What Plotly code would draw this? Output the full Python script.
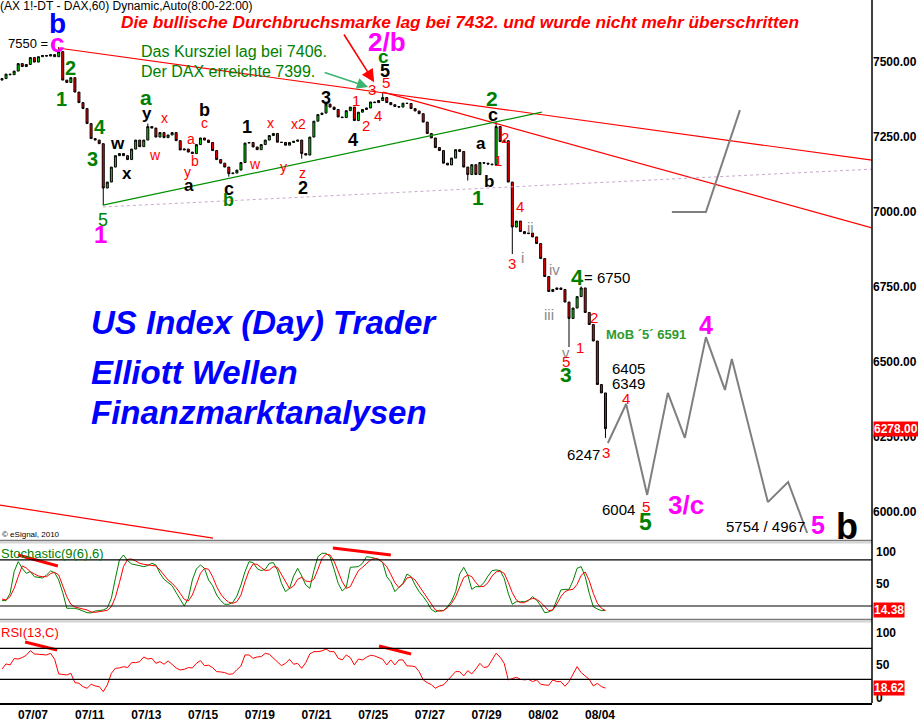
import plotly.graph_objects as go

# ---------------- data (2-hour bars, session 08:00-22:00, 7 bars/day) ----------------
dates = ["07/07", "07/11", "07/13", "07/15", "07/19", "07/21", "07/25", "07/27", "07/29", "08/02", "08/04"]
bars_per_day = 7
first_label_bar = 7.65

closes = [7445, 7460, 7458, 7470, 7495, 7485, 7492, 7515, 7500, 7518,
          7522, 7520, 7525, 7518, 7535, 7440, 7432, 7448, 7400, 7365,
          7345, 7295, 7245, 7240, 7228, 7080, 7100, 7150, 7188, 7195,
          7188, 7175, 7210, 7240, 7218, 7240, 7285, 7280, 7250, 7265,
          7248, 7257, 7265, 7238, 7207, 7210, 7200, 7195, 7225, 7247,
          7240, 7232, 7205, 7175, 7163, 7150, 7128, 7130, 7140, 7165,
          7230, 7232, 7217, 7208, 7225, 7240, 7255, 7262, 7233, 7232,
          7223, 7232, 7236, 7240, 7195, 7190, 7250, 7303, 7325, 7330,
          7360, 7350, 7342, 7317, 7315, 7338, 7350, 7305, 7333, 7342,
          7347, 7367, 7365, 7372, 7382, 7365, 7358, 7352, 7350, 7363,
          7362, 7345, 7337, 7328, 7300, 7262, 7247, 7215, 7205, 7163,
          7157, 7180, 7208, 7202, 7150, 7125, 7158, 7125, 7165, 7163,
          7160, 7158, 7285, 7235, 7238, 7100, 6950, 6970, 6935, 6928,
          6930, 6917, 6895, 6845, 6785, 6735, 6742, 6747, 6742, 6700,
          6645, 6680, 6718, 6747, 6665, 6625, 6570, 6425, 6397, 6278]
first_open = 7440
wick_high = {14: 7550, 36: 7295, 80: 7368, 94: 7399, 122: 7300, 143: 6752}
wick_low = {25: 7023, 56: 7118, 74: 7178, 115: 7105, 126: 6860, 140: 6550, 149: 6247}

stoch_k = [27, 27, 36.5, 64.8, 77.8, 69.1, 62.6, 64.8, 58.2, 57.8,
           56.5, 60.4, 65.6, 63.4, 53.9, 37.4, 17, 17, 17, 15.6,
           13, 11.3, 10.9, 13.5, 13.9, 14.8, 17.4, 30, 56, 80,
           86.5, 79.1, 74.8, 73.5, 72.1, 71.3, 72.6, 75.6, 73.5, 62.6,
           54.8, 50.8, 46.5, 37.4, 27.8, 20, 30, 53.9, 68.2, 73.5,
           69.1, 53.9, 46.5, 34.3, 27, 22.2, 22.2, 24.8, 33, 47.3,
           64.8, 77.8, 76.5, 68.7, 66.1, 67.8, 75.6, 76.5, 66.9, 49.6,
           38.7, 43, 59.1, 69.1, 59.1, 47.3, 43, 66.1, 84.3, 88.7,
           88.7, 84.3, 67.8, 49.6, 39.6, 44.3, 70.4, 70.4, 71.3, 75.6,
           84.3, 83.5, 82.2, 80.8, 76.5, 58.2, 51.7, 38.7, 44.3, 49.6,
           61.7, 58.2, 47.3, 38.7, 32.2, 24.8, 15.6, 12.2, 14.4, 13.9,
           19.1, 26.5, 38.7, 61.7, 70.4, 60.4, 41.7, 45.2, 45.2, 50.4,
           59.1, 66.1, 67, 66.1, 56, 36.5, 22.2, 25.6, 25.6, 25.6,
           27, 32.2, 27.8, 20.4, 11.3, 12.2, 14.8, 28.7, 40.9, 41.7,
           41.7, 53, 69.1, 71.3, 58.2, 36.5, 19.1, 16.1, 13.9, 14.38]

stoch_d = [29.1, 27.8, 32.2, 43, 58.2, 72.2, 69.5, 64.8, 61.7, 59.1,
           58.2, 58.2, 62.2, 63.9, 60.4, 47.4, 32.2, 22.2, 18.7, 17.4,
           16.1, 14.8, 12.2, 11.7, 12.6, 13.5, 14.3, 19.1, 31.3, 50.4,
           71.3, 80.8, 81.3, 78.6, 75.6, 74.3, 73.5, 73.5, 72.2, 66.9,
           60.9, 53.9, 49.6, 43.9, 36.5, 28.7, 26.5, 34.3, 48.2, 62.6,
           69.1, 67.8, 58.2, 45.2, 35.6, 29.1, 24.8, 23.5, 25.6, 34.3,
           51.7, 66.1, 74.8, 74.3, 70, 66.1, 66.9, 71.3, 70.4, 61.7,
           51.7, 42.6, 46.1, 54.8, 57.4, 52.6, 51.7, 54.8, 67.8, 81.7,
           87.4, 86.5, 78.2, 66.1, 51.7, 43, 45.2, 56.1, 66.1, 70.4,
           75.6, 80, 82.2, 80.8, 76.9, 71.3, 61.3, 50.4, 43.9, 48.7,
           56.5, 57.8, 53.9, 46.1, 38.7, 31.3, 22.6, 14.8, 13.1, 13.9,
           17.8, 23.5, 32.2, 43.9, 57, 60.4, 58.2, 50.4, 45.2, 45.6,
           50.4, 59.1, 64.3, 65.6, 62.6, 50.9, 37.4, 27.8, 24.3, 24.3,
           27.8, 30, 28.7, 24.8, 19.1, 13.9, 14.8, 22.6, 32.2, 38.7,
           40.9, 41.7, 48.2, 60, 64.3, 53, 36.5, 23.5, 17, 14]

rsi = [43.3, 49.8, 48.5, 56.7, 56.2, 58, 61, 67, 62.7, 62.3,
       61.8, 61.4, 63.5, 55.8, 36.9, 36, 35.6, 37.7, 25.7, 24.8,
       20.5, 18.4, 23.6, 21.4, 20.5, 14.1, 22.7, 37.7, 44.2, 44.6,
       46.3, 45.1, 51.5, 51.5, 52.8, 58.8, 56.2, 57.1, 50.6, 52.8,
       49.4, 53.7, 48.5, 44.6, 42, 42.9, 45.1, 44.6, 50.6, 54.1,
       47.6, 48.1, 45.1, 39.9, 39.5, 38.6, 36.5, 36.9, 42.5, 47.2,
       61.4, 61.4, 57.1, 58.8, 59.2, 63.5, 62.3, 57.1, 53.2, 47.6,
       50.6, 55.8, 49.4, 50.6, 44.2, 51.5, 62.7, 65.7, 65.7, 66.6,
       69.1, 65.7, 65.7, 57.1, 55, 61.4, 58, 48.5, 56.2, 54.9,
       58.4, 61, 60.1, 58.4, 55.8, 48.5, 55, 48.5, 55, 55,
       47.2, 47.2, 46.3, 39.9, 29.2, 25.7, 23.1, 18.4, 21.4, 22.7,
       28.3, 33.4, 39.9, 39.9, 34.3, 41.1, 36.9, 43.3, 50.6, 45.1,
       46.3, 55, 63.5, 58.4, 50.6, 29.2, 31.4, 32.6, 30, 29.2,
       30, 27, 29.2, 23.6, 22.7, 22.3, 29.2, 27, 27, 21,
       27, 36.9, 46.3, 38.6, 34.3, 30, 21.4, 24.8, 20.5, 18.62]

# Elliott-wave projection (bar index, price)
proj_bars = [149.6, 154.1, 159.3, 164.4, 168.6, 173.8, 178.5, 180.2, 189.1, 194.1, 198.8]
proj_prices = [6230, 6360, 6057, 6397, 6247, 6583, 6407, 6510, 6033, 6100, 5930]
alt_bars = [165.4, 173.8, 182.2]
alt_prices = [7000, 7000, 7340]

# trend lines (bar index, price)
red_line_1 = ([13.8, 214.8], [7547, 7173])
red_line_2 = ([94.1, 214.8], [7400, 6947])
red_line_3 = ([-0.5, 52.1], [6023, 5913])
green_line = ([24.9, 133.3], [7023, 7333])
lilac_line = ([24.9, 214.8], [7017, 7143])
stoch_div = [([3.95, 13.8], [86.5, 72.2]), ([81.7, 96], [95.6, 86.5])]
rsi_div = [([5.7, 13.6], [78.1, 67.8]), ([93.1, 101], [73, 62.6])]

price_ticks = [7500, 7250, 7000, 6750, 6500, 6250, 6000]
last_price = 6278.00

# ---------------- build ----------------
n = len(closes)
bars = list(range(n))
opens = [first_open] + closes[:-1]
highs = [max(o, c) for o, c in zip(opens, closes)]
lows = [min(o, c) for o, c in zip(opens, closes)]
for k, v in wick_high.items():
    highs[k] = v
for k, v in wick_low.items():
    lows[k] = v

FONT = "Liberation Sans, Arial, sans-serif"
GREEN = "#008000"
RED = "#ff0000"
MAG = "#ff00ff"
BLUE = "#0000ff"
GREY = "#8a8a8a"
BLACK = "#000000"

fig = go.Figure()
fig.add_trace(go.Candlestick(
    x=bars, open=opens, high=highs, low=lows, close=closes,
    increasing=dict(line=dict(color="black", width=1), fillcolor="#00dd00"),
    decreasing=dict(line=dict(color="black", width=1), fillcolor="#ff0000"),
    whiskerwidth=0, hoverinfo="skip", xaxis="x", yaxis="y"))


def line(xs, ys, color, width=1, dash=None, yaxis="y"):
    fig.add_trace(go.Scatter(x=xs, y=ys, mode="lines", hoverinfo="skip",
                             line=dict(color=color, width=width, dash=dash),
                             xaxis="x", yaxis=yaxis))


line(*red_line_1, RED, 1.2)
line(*red_line_2, RED, 1.2)
line(*red_line_3, RED, 1.2)
line(*green_line, "#009000", 1.2)
line(*lilac_line, "#c8a8cc", 1, "dot")
line(proj_bars, proj_prices, "#7f7f7f", 2)
line(alt_bars, alt_prices, "#7f7f7f", 2)

# stochastic
line(bars, stoch_k, "#008000", 1, yaxis="y2")
line(bars, stoch_d, "#ff0000", 1, yaxis="y2")
for xs, ys in stoch_div:
    line(xs, ys, RED, 3, yaxis="y2")
# rsi
line(bars, rsi, "#ff0000", 1, yaxis="y3")
for xs, ys in rsi_div:
    line(xs, ys, RED, 3, yaxis="y3")

# ---------------- annotations ----------------
ann = []


def lab(text, x, y, color, size, bold=False, italic=False, xanchor="center"):
    t = text
    if bold:
        t = "<b>" + t + "</b>"
    if italic:
        t = "<i>" + t + "</i>"
    ann.append(dict(text=t, x=x, y=y, xref="x", yref="y", showarrow=False,
                    xanchor=xanchor, yanchor="middle",
                    font=dict(family=FONT, size=size, color=color)))


wave_labels = [
    ("b", 13.8, 7630, BLUE, 28, True),
    ("7550 =", 6.4, 7563, BLACK, 13, False),
    ("c", 13.6, 7565, MAG, 26, True),
    ("2", 16.8, 7480, GREEN, 20, True),
    ("1", 14.8, 7377, GREEN, 20, True),
    ("4", 24.2, 7283, GREEN, 20, True),
    ("3", 22.4, 7177, GREEN, 20, True),
    ("5", 24.9, 6975, GREEN, 18, False),
    ("1", 24.4, 6925, MAG, 24, True),
    ("a", 35.6, 7382, GREEN, 21, True),
    ("y", 35.8, 7330, BLACK, 17, True),
    ("x", 40.2, 7313, RED, 14, False),
    ("b", 49.9, 7340, BLACK, 18, True),
    ("c", 49.9, 7297, RED, 14, False),
    ("w", 28.4, 7230, BLACK, 17, True),
    ("w", 37.8, 7190, RED, 14, False),
    ("x", 30.9, 7130, BLACK, 17, True),
    ("a", 46.7, 7243, RED, 14, False),
    ("b", 47.7, 7170, RED, 14, False),
    ("y", 45.9, 7133, RED, 14, False),
    ("a", 46.2, 7090, BLACK, 17, True),
    ("1", 60.5, 7283, BLACK, 18, True),
    ("x", 66.4, 7297, RED, 14, False),
    ("x2", 73.1, 7293, RED, 14, False),
    ("w", 62.5, 7160, RED, 14, False),
    ("y", 69.6, 7150, RED, 14, False),
    ("z", 74.1, 7130, RED, 14, False),
    ("2", 74.3, 7080, BLACK, 18, True),
    ("c", 56, 7077, BLACK, 18, True),
    ("b", 56, 7040, GREEN, 18, True),
    ("3", 80, 7380, BLACK, 18, True),
    ("4", 86.7, 7240, BLACK, 18, True),
    ("1", 87.4, 7373, RED, 15, False),
    ("2", 89.9, 7290, RED, 15, False),
    ("3", 91.4, 7410, RED, 15, False),
    ("4", 92.8, 7323, RED, 15, False),
    ("5", 94.8, 7432, RED, 15, False),
    ("5", 94.6, 7470, BLACK, 18, True),
    ("c", 94.3, 7517, GREEN, 19, True),
    ("2/b", 95.1, 7567, MAG, 26, True),
    ("2", 121, 7380, GREEN, 21, True),
    ("c", 121.2, 7323, BLACK, 18, True),
    ("2", 124.2, 7247, RED, 15, False),
    ("a", 118.3, 7227, BLACK, 17, True),
    ("1", 122.5, 7173, RED, 15, False),
    ("b", 120.2, 7103, BLACK, 17, True),
    ("1", 117.5, 7047, GREEN, 21, True),
    ("4", 127.9, 7017, RED, 15, False),
    ("3", 125.9, 6830, RED, 15, False),
    ("i", 128.6, 6847, GREY, 15, False),
    ("ii", 130.6, 6950, GREY, 15, False),
    ("iv", 136.3, 6807, GREY, 15, False),
    ("iii", 135.1, 6657, GREY, 15, False),
    ("v", 139.3, 6532, GREY, 15, False),
    ("5", 139.3, 6502, RED, 15, False),
    ("3", 139.3, 6460, GREEN, 21, True),
    ("4", 142.2, 6782, GREEN, 22, True),
    ("2", 146.2, 6650, RED, 15, False),
    ("1", 142.7, 6550, RED, 15, False),
    ("6405", 154.8, 6480, BLACK, 15, False),
    ("6349", 154.8, 6427, BLACK, 15, False),
    ("4", 154.1, 6380, RED, 15, False),
    ("6247", 143.5, 6193, BLACK, 15, False),
    ("3", 149.2, 6200, RED, 15, False),
    ("6004", 152.3, 6007, BLACK, 15, False),
    ("5", 159, 6020, RED, 15, False),
    ("5", 159, 5967, GREEN, 23, True),
    ("3/c", 168.9, 6023, MAG, 26, True),
    ("4", 173.8, 6622, MAG, 25, True),
    ("5754 / 4967", 188.4, 5950, BLACK, 15, False),
    ("5", 201.5, 5957, MAG, 25, True),
    ("b", 208.6, 5950, BLACK, 36, True),
]
for t, x, y, c, s, b in wave_labels:
    lab(t, x, y, c, s, b)
lab("= 6750", 149.4, 6782, BLACK, 15, False)
lab("MoB ´5´ 6591", 159, 6593, "#2e9a2e", 13, True)

# arrows
ann.append(dict(x=91.9, y=7433, ax=84.2, ay=7597, xref="x", yref="y", axref="x", ayref="y",
                showarrow=True, arrowhead=2, arrowsize=1.6, arrowwidth=1.6, arrowcolor=RED, text=""))
ann.append(dict(x=90.4, y=7417, ax=79.3, ay=7467, xref="x", yref="y", axref="x", ayref="y",
                showarrow=True, arrowhead=2, arrowsize=1.4, arrowwidth=1.6, arrowcolor="#3cb371", text=""))

PW, PH = 872.0, 703.0


def ptxt(text, px, py, size, color, xanchor="left", yanchor="middle", family=FONT):
    ann.append(dict(text=text, x=px / PW, y=1 - py / PH, xref="paper", yref="paper",
                    showarrow=False, xanchor=xanchor, yanchor=yanchor,
                    font=dict(family=family, size=size, color=color)))


ptxt("(AX 1!-DT - DAX,60) Dynamic,Auto(8:00-22:00)", -2, 6, 12, BLACK)
ptxt("<b><i>Die bullische Durchbruchsmarke lag bei 7432. und wurde nicht mehr überschritten</i></b>",
     460, 22, 17.3, RED, xanchor="center")
ptxt("Das Kursziel lag bei 7406.", 139, 52, 16, GREEN)
ptxt("Der DAX erreichte 7399.", 139, 72, 16, GREEN)
ptxt("<b><i>US Index (Day) Trader</i></b>", 89, 322, 33, BLUE)
ptxt("<b><i>Elliott Wellen</i></b>", 89, 372, 33, BLUE)
ptxt("<b><i>Finanzmarktanalysen</i></b>", 89, 413, 33, BLUE)
ptxt("© eSignal, 2010", 0, 534, 8, BLACK)
ptxt("Stochastic(9(6),6)", -1, 553, 13, GREEN)
ptxt("RSI(13,C)", -1, 632, 13, RED)

# right-hand pane scale labels
for txt, py in [("100", 552), ("50", 584), ("100", 633), ("50", 665), ("0", 698)]:
    ptxt("<b>" + txt + "</b>", 874, py, 12, BLACK)


def badge(text, y, yref):
    ann.append(dict(text="<b>" + text + "</b>", x=1.0, y=y, xref="paper", yref=yref,
                    showarrow=False, xanchor="left", yanchor="middle", xshift=1,
                    bgcolor="#ff0000", borderpad=0,
                    font=dict(family=FONT, size=12, color="white")))


badge("%.2f" % last_price, last_price, "y")
badge("%.2f" % stoch_k[-1], stoch_k[-1], "y2")
badge("%.2f" % rsi[-1], rsi[-1], "y3")

# ---------------- shapes ----------------
shapes = []
for lvl in (80, 20):
    shapes.append(dict(type="line", xref="paper", yref="y2", x0=0, x1=1, y0=lvl, y1=lvl,
                       line=dict(color="black", width=1.2)))
for lvl in (70, 30):
    shapes.append(dict(type="line", xref="paper", yref="y3", x0=0, x1=1, y0=lvl, y1=lvl,
                       line=dict(color="black", width=1.2)))
for py, col, w in [(540.5, "#7a7a7a", 1.5), (542.5, "#d4d4d4", 2), (619.5, "#7a7a7a", 1.5), (621.5, "#d4d4d4", 2)]:
    shapes.append(dict(type="line", xref="paper", yref="paper", x0=0, x1=1,
                       y0=1 - py / PH, y1=1 - py / PH, line=dict(color=col, width=w)))
shapes.append(dict(type="line", xref="paper", yref="paper", x0=1, x1=1, y0=0, y1=1,
                   line=dict(color="black", width=1.5)))

tick_bars = [first_label_bar + 2 * bars_per_day * k for k in range(len(dates))]

fig.update_layout(
    width=918, height=722,
    margin=dict(l=0, r=46, t=0, b=19),
    paper_bgcolor="white", plot_bgcolor="white",
    showlegend=False,
    font=dict(family=FONT, size=12, color="black"),
    annotations=ann, shapes=shapes,
    xaxis=dict(range=[-0.494, 214.81], domain=[0, 1], anchor="y3",
               tickvals=tick_bars, ticktext=["<b>" + d + "</b>" for d in dates],
               ticks="", showgrid=False, zeroline=False, showline=True,
               linecolor="black", linewidth=1.5, rangeslider=dict(visible=False),
               tickfont=dict(size=12, color="black")),
    yaxis=dict(domain=[0.2333, 1], range=[5910, 7707], side="right", anchor="x",
               tickvals=price_ticks, ticktext=["<b>%.2f</b>" % v for v in price_ticks],
               ticks="", showgrid=False, zeroline=False, showline=False,
               tickfont=dict(size=12, color="black")),
    yaxis2=dict(domain=[0.1195, 0.2276], range=[3.05, 102.1], side="right", anchor="x",
                showticklabels=False, ticks="", showgrid=False, zeroline=False),
    yaxis3=dict(domain=[0, 0.1152], range=[-0.6, 103.9], side="right", anchor="x",
                showticklabels=False, ticks="", showgrid=False, zeroline=False),
)

fig.write_html("out.html", config={"displayModeBar": False},
               post_script="document.body.style.margin='0';document.body.style.overflow='hidden';")
